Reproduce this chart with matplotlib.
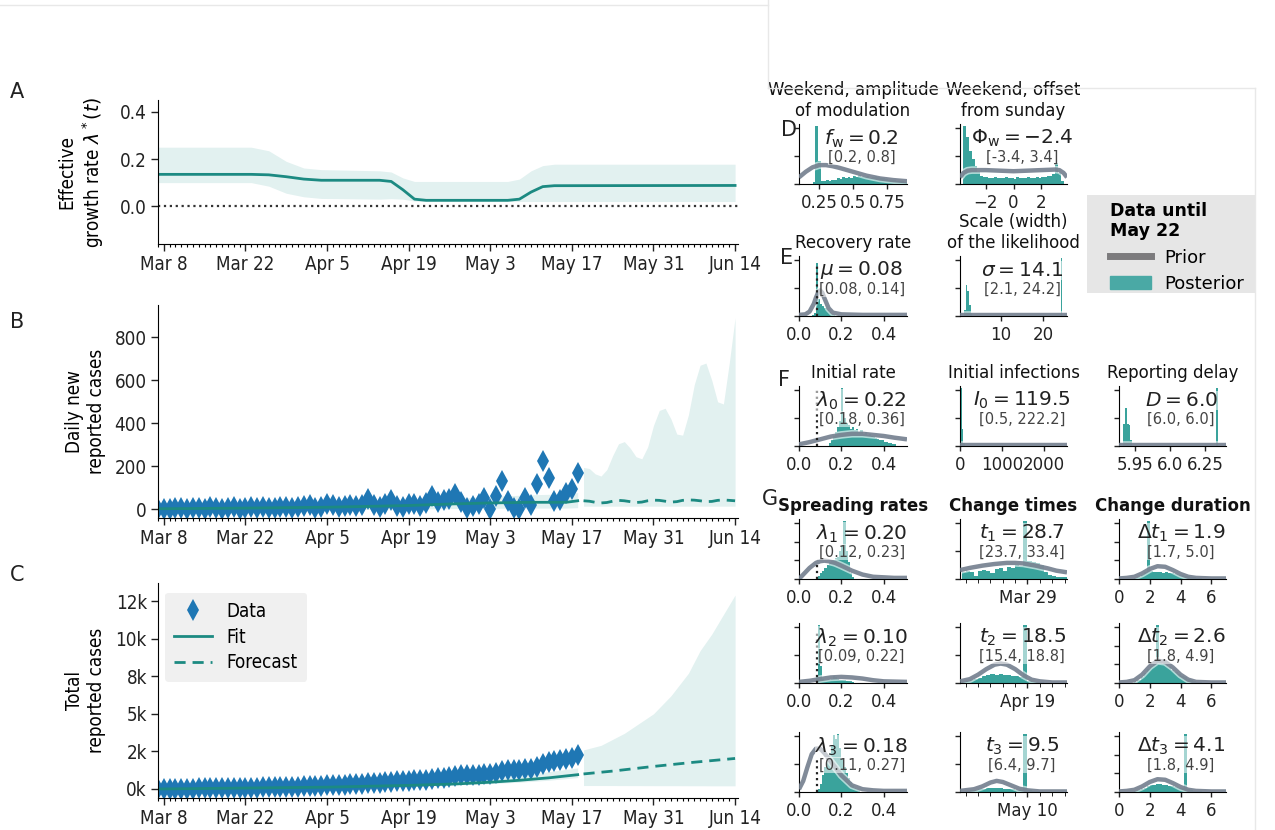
import numpy as np
import matplotlib
matplotlib.use("Agg")
import matplotlib.pyplot as plt
from matplotlib.lines import Line2D
from matplotlib.patches import Patch, Rectangle
from matplotlib.font_manager import FontProperties

# ---------------- left panels: data ----------------
# growth rate lambda*(t), key dates
lam_dates = np.array(["2020-03-07", "2020-03-23", "2020-03-26", "2020-03-29", "2020-04-01",
                      "2020-04-04", "2020-04-14", "2020-04-16", "2020-04-18", "2020-04-20",
                      "2020-04-22", "2020-05-06", "2020-05-08", "2020-05-10", "2020-05-12",
                      "2020-05-14", "2020-06-14"], dtype="datetime64[D]")
lam_med = [0.135, 0.135, 0.133, 0.125, 0.115, 0.11, 0.11, 0.105, 0.07, 0.03,
           0.025, 0.025, 0.03, 0.06, 0.083, 0.087, 0.088]
lam_hi = [0.25, 0.25, 0.235, 0.19, 0.162, 0.155, 0.15, 0.145, 0.12, 0.105,
          0.105, 0.105, 0.115, 0.15, 0.172, 0.178, 0.178]
lam_lo = [0.10, 0.10, 0.085, 0.055, 0.04, 0.033, 0.03, 0.032, 0.03, 0.022,
          0.02, 0.02, 0.02, 0.02, 0.02, 0.02, 0.02]

# daily new reported cases, Mar 7 - May 18
data_dates = np.arange("2020-03-07", "2020-05-19", dtype="datetime64[D]")
daily_cases = [2, 4, 0, 6, 8, 3, 5, 7, 3, 9, 5, 1, 8, 10, 4, 6, 10, 5, 12, 8, 6, 10, 13, 7, 9,
               15, 22, 8, 12, 25, 20, 10, 18, 22, 14, 20, 50, 20, 12, 26, 42, 18, 12, 24,
               25, 15, 28, 62, 35, 45, 50, 70, 35, 5, 15,
               25, 55, 0,
               60, 130, 40, 5, 0, 55, 20, 120, 225, 145, 40, 42, 75, 95, 170]
total_cases = np.cumsum(daily_cases)

fit_dates = np.array(["2020-03-07", "2020-03-22", "2020-04-05", "2020-04-19", "2020-04-26",
                      "2020-05-03", "2020-05-10", "2020-05-16", "2020-05-18"], dtype="datetime64[D]")
fit_daily = [3, 6, 10, 18, 25, 30, 33, 33, 40]
fit_daily_hi = [15, 20, 25, 40, 50, 60, 68, 72, 78]
fit_daily_lo = [0, 0, 0, 2, 4, 5, 6, 6, 8]

fc_dates = np.arange("2020-05-19", "2020-06-15", dtype="datetime64[D]")
fc_daily = [40, 38, 33, 30, 32, 38, 42, 40, 36, 32, 34, 40, 43, 42, 38, 34, 36, 42, 44,
            43, 40, 36, 37, 42, 44, 42, 40]
fc_daily_hi = [195, 190, 165, 155, 185, 250, 305, 315, 285, 245, 235, 290, 390, 460,
               470, 420, 350, 345, 440, 580, 670, 680, 600, 500, 490, 680, 891]
fc_daily_lo = [15] * 27

fitc_dates = np.array(["2020-03-07", "2020-04-05", "2020-04-19", "2020-04-27", "2020-05-03",
                       "2020-05-08", "2020-05-13", "2020-05-18"], dtype="datetime64[D]")
fit_total = [0, 120, 240, 333, 450, 578, 740, 950]
fit_total_hi = [40, 200, 380, 500, 720, 900, 1150, 1400]
fit_total_lo = [0, 90, 190, 260, 360, 450, 580, 760]
fct_dates = np.array(["2020-05-19", "2020-05-24", "2020-05-31", "2020-06-07", "2020-06-14"],
                     dtype="datetime64[D]")
fc_total = [1000, 1190, 1500, 1780, 2030]
fctb_dates = np.array(["2020-05-19", "2020-05-22", "2020-05-26", "2020-05-31", "2020-06-03",
                       "2020-06-06", "2020-06-08", "2020-06-10", "2020-06-12", "2020-06-14"],
                      dtype="datetime64[D]")
fc_total_hi = [2600, 2900, 3700, 5000, 6200, 7700, 9200, 10300, 11600, 12900]
fc_total_lo = [230, 230, 225, 220, 220, 215, 215, 210, 210, 210]

date_ticks = np.arange("2020-03-08", "2020-06-15", 14, dtype="datetime64[D]")
date_labels = ["Mar 8", "Mar 22", "Apr 5", "Apr 19", "May 3", "May 17", "May 31", "Jun 14"]

# ---------------- right panels: distributions ----------------
fw_edges = np.arange(0.20, 0.90, 0.02)
fw_post = [0.04, 1.05, 0.42, 0.06, 0.05, 0.07, 0.06, 0.08, 0.07, 0.10, 0.09, 0.12, 0.11, 0.13,
           0.10, 0.14, 0.12, 0.16, 0.13, 0.12, 0.15, 0.11, 0.13, 0.14, 0.12, 0.10, 0.11, 0.09,
           0.08, 0.07, 0.08, 0.06, 0.05, 0.05, 0.04]
fw_prior_x = [0.10, 0.15, 0.20, 0.25, 0.30, 0.35, 0.40, 0.50, 0.60, 0.70, 0.80, 0.90]
fw_prior_y = [0.12, 0.22, 0.30, 0.34, 0.34, 0.32, 0.29, 0.22, 0.15, 0.10, 0.07, 0.05]

phi_edges = np.arange(-3.6, 3.6, 0.2)
phi_post = [1.05, 0.85, 0.6, 0.45, 0.32, 0.22, 0.15, 0.12, 0.12, 0.1, 0.1, 0.12, 0.1, 0.11,
            0.1, 0.12, 0.1, 0.11, 0.09, 0.12, 0.1, 0.11, 0.1, 0.12, 0.1, 0.11, 0.12, 0.1,
            0.12, 0.13, 0.14, 0.15, 0.18, 0.38, 0.2, 0.05]
phi_prior_x = [-3.85, -3.6, -3.3, -3.0, -2.0, -1.0, 0, 1.0, 2.0, 3.0, 3.3, 3.6, 3.85]
phi_prior_y = [0.12, 0.2, 0.24, 0.25, 0.25, 0.24, 0.23, 0.24, 0.25, 0.26, 0.25, 0.2, 0.12]

mu_edges = np.arange(0.06, 0.165, 0.01)
mu_post = [0.02, 0.05, 0.95, 0.3, 0.22, 0.18, 0.14, 0.1, 0.07, 0.04, 0.02]
mu_prior_x = [0, 0.03, 0.05, 0.07, 0.08, 0.09, 0.10, 0.11, 0.12, 0.14, 0.16, 0.2, 0.3, 0.51]
mu_prior_y = [0.02, 0.03, 0.08, 0.22, 0.33, 0.42, 0.46, 0.42, 0.32, 0.14, 0.06, 0.03, 0.02, 0.02]

sig_edges = [1.4, 1.8, 2.2, 2.6, 3.0, 24.0]
sig_post = [0.1, 0.55, 0.45, 0.2, 0.05, 1.05]
sig_prior_x = [0.5, 25.5]
sig_prior_y = [0.015, 0.015]

lam0_edges = np.arange(0.14, 0.46, 0.01)
lam0_post = [0.05, 0.1, 0.18, 0.25, 0.35, 0.45, 1.05, 0.5, 0.42, 0.38, 0.3, 0.35, 0.28, 0.3,
             0.26, 0.28, 0.22, 0.25, 0.2, 0.22, 0.18, 0.16, 0.15, 0.12, 0.1, 0.1, 0.08, 0.07,
             0.06, 0.05, 0.04, 0.03]
lam0_prior_x = [0, 0.05, 0.1, 0.15, 0.2, 0.25, 0.3, 0.35, 0.4, 0.45, 0.51]
lam0_prior_y = [0.03, 0.07, 0.12, 0.17, 0.2, 0.22, 0.22, 0.2, 0.18, 0.15, 0.12]

i0_edges = [0, 40, 80]
i0_post = [1.05, 0.3, 0.05]
i0_prior_x = [0, 2560]
i0_prior_y = [0.015, 0.015]

d_edges = [5.897, 5.905, 5.913, 5.921, 5.929, 6.296]
d_post = [0.4, 0.68, 0.4, 0.38, 0.1, 1.05]
d_prior_x = [5.88, 6.34]
d_prior_y = [0.01, 0.01]

lam1_edges = np.arange(0.08, 0.26, 0.01)
lam1_post = [0.04, 0.06, 0.1, 0.15, 0.2, 0.25, 0.3, 0.33, 0.35, 0.38, 0.4, 0.5, 0.6, 1.05,
             0.5, 0.3, 0.1, 0.03]
lam1_prior_x = [0, 0.02, 0.05, 0.08, 0.1, 0.12, 0.14, 0.17, 0.2, 0.25, 0.3, 0.35, 0.4, 0.45, 0.51]
lam1_prior_y = [0, 0.08, 0.2, 0.29, 0.32, 0.33, 0.32, 0.29, 0.24, 0.15, 0.08, 0.04, 0.03, 0.02, 0.02]

lam2_edges = np.arange(0.08, 0.26, 0.01)
lam2_post = [0.15, 1.05, 0.3, 0.08, 0.06, 0.05, 0.06, 0.08, 0.12, 0.1, 0.08, 0.06, 0.05, 0.05,
             0.04, 0.04, 0.03, 0.02]
lam2_prior_x = [0, 0.05, 0.1, 0.15, 0.2, 0.25, 0.3, 0.35, 0.4, 0.51]
lam2_prior_y = [0.02, 0.04, 0.07, 0.1, 0.11, 0.1, 0.08, 0.05, 0.03, 0.02]

lam3_edges = np.arange(0.09, 0.29, 0.01)
lam3_post = [0.05, 0.15, 0.3, 0.45, 0.58, 0.7, 0.85, 1.02, 0.95, 1.05, 0.8, 0.6, 0.45, 0.35,
             0.25, 0.18, 0.12, 0.08, 0.05, 0.03]
lam3_prior_x = [0, 0.02, 0.04, 0.06, 0.08, 0.1, 0.12, 0.15, 0.18, 0.2, 0.25, 0.3, 0.35, 0.4, 0.51]
lam3_prior_y = [0.05, 0.2, 0.45, 0.68, 0.78, 0.78, 0.7, 0.55, 0.4, 0.3, 0.12, 0.05, 0.03, 0.02, 0.02]

t1_edges = np.arange(13, 39, 1.0)
t1_post = [0.12, 0.15, 0.12, 0.06, 0.14, 0.16, 0.15, 0.1, 0.18, 0.2, 0.14, 0.22, 0.2, 0.25,
           0.24, 1.05, 0.32, 0.3, 0.28, 0.25, 0.12, 0.08, 0.06, 0.04, 0.03, 0.03]
t1_prior_x = [12.6, 15, 18, 21, 24, 26, 28, 31, 34, 36, 38.6]
t1_prior_y = [0.16, 0.2, 0.24, 0.27, 0.29, 0.29, 0.28, 0.24, 0.19, 0.15, 0.12]

t2_edges = np.arange(3, 29, 1.0)
t2_post = [0.02, 0.03, 0.05, 0.07, 0.09, 0.12, 0.14, 0.16, 0.15, 0.17, 0.15, 0.14, 0.13, 0.12,
           0.1, 1.05, 0.03, 0.02, 0.01, 0.01, 0, 0, 0, 0, 0, 0]
t2_prior_x = [2.6, 5, 7, 9, 11, 12.5, 14, 16, 18, 20, 22, 25, 28.6]
t2_prior_y = [0.03, 0.07, 0.15, 0.25, 0.33, 0.35, 0.33, 0.25, 0.14, 0.06, 0.03, 0.01, 0.01]

t3_edges = np.arange(-5, 20, 1.0)
t3_post = [0.02, 0.03, 0.04, 0.05, 0.06, 0.07, 0.08, 0.08, 0.07, 0.06, 0.05, 0.05, 0.04, 0.04,
           1.05, 0.03, 0.01, 0.01, 0, 0, 0, 0, 0, 0, 0]
t3_prior_x = [-6.4, -3, -1, 1, 2.5, 4, 6, 8, 10, 13, 19.6]
t3_prior_y = [0.02, 0.05, 0.1, 0.17, 0.2, 0.18, 0.12, 0.06, 0.03, 0.01, 0.01]

dt_edges = np.arange(1.0, 5.4, 0.2)
dt1_post = [0.02, 0.04, 0.08, 0.12, 1.05, 0.14, 0.12, 0.13, 0.12, 0.11, 0.12, 0.1, 0.1, 0.09,
            0.08, 0.07, 0.06, 0.05, 0.04, 0.03, 0.02, 0.01]
dt2_post = [0.02, 0.05, 0.1, 0.18, 0.25, 0.3, 0.35, 1.05, 0.38, 0.35, 0.32, 0.28, 0.24, 0.2,
            0.16, 0.12, 0.1, 0.08, 0.05, 0.03, 0.02, 0.01]
dt3_post = [0.02, 0.04, 0.06, 0.08, 0.1, 0.12, 0.13, 0.14, 0.14, 0.13, 0.12, 0.11, 0.1, 0.09,
            0.08, 0.07, 1.05, 0.05, 0.03, 0.02, 0.01, 0.01]
dt_prior_x = [0, 0.5, 1, 1.5, 2, 2.5, 3, 3.5, 4, 4.5, 5, 6, 6.95]
dt1_prior_y = [0.01, 0.02, 0.04, 0.1, 0.18, 0.23, 0.22, 0.16, 0.09, 0.04, 0.02, 0.01, 0.01]
dt2_prior_y = [0.01, 0.02, 0.05, 0.15, 0.3, 0.4, 0.38, 0.28, 0.15, 0.06, 0.02, 0.01, 0.01]
dt3_prior_y = [0.01, 0.02, 0.04, 0.1, 0.18, 0.23, 0.22, 0.16, 0.09, 0.04, 0.02, 0.01, 0.01]

mu_line = 0.085

# ---------------- style ----------------
TEAL = "#1c8a82"
TEAL_FILL = "#e2f1f0"
BLUE = "#1f77b4"
POST = "#3aa39c"
PRIOR = "#737f8e"
W, H = 1275, 830

fp_tick = FontProperties(family="DejaVu Sans", stretch="condensed", size=13.5)
fp_label = FontProperties(family="DejaVu Sans", stretch="condensed", size=13.5)
fp_leg = FontProperties(family="DejaVu Sans", stretch="condensed", size=13.5)

fig = plt.figure(figsize=(W / 100, H / 100), dpi=100)


def px_axes(l, t, r, b):
    return fig.add_axes([l / W, 1 - b / H, (r - l) / W, (b - t) / H])


def style_left(ax, yticks, ylabels, ylim, ylabel):
    ax.set_xlim(np.datetime64("2020-03-07"), np.datetime64("2020-06-14T12:00"))
    ax.set_xticks(date_ticks)
    ax.set_xticklabels(date_labels, fontproperties=fp_tick)
    ax.set_xticks(np.arange("2020-03-07", "2020-06-15", dtype="datetime64[D]"), minor=True)
    ax.set_ylim(*ylim)
    ax.set_yticks(yticks)
    ax.set_yticklabels(ylabels, fontproperties=fp_tick)
    ax.tick_params(which="major", length=5, width=1, colors="#222", pad=3)
    ax.tick_params(which="minor", length=2.5, width=0.8)
    for s in ["top", "right"]:
        ax.spines[s].set_visible(False)
    ax.set_ylabel(ylabel, fontproperties=fp_label)
    ax.yaxis.set_label_coords(-0.09, 0.5)


# A
axA = px_axes(158, 100, 738, 244)
axA.fill_between(lam_dates, lam_lo, lam_hi, color=TEAL_FILL, lw=0)
axA.plot(lam_dates, lam_med, color=TEAL, lw=2)
axA.axhline(0, color="#333", ls=":", lw=1.6)
style_left(axA, [0, 0.2, 0.4], ["0.0", "0.2", "0.4"], (-0.16, 0.45),
           "Effective\ngrowth rate $\\lambda^*(t)$")

# B
axB = px_axes(158, 305, 738, 518)
axB.fill_between(fit_dates, fit_daily_lo, fit_daily_hi, color=TEAL_FILL, lw=0)
axB.fill_between(fc_dates, fc_daily_lo, fc_daily_hi, color=TEAL_FILL, lw=0)
axB.plot(data_dates, daily_cases, "d", color=BLUE, ms=11, mew=0)
axB.plot(fit_dates, fit_daily, color=TEAL, lw=2)
axB.plot(fc_dates, fc_daily, color=TEAL, lw=2, ls=(0, (4, 2.5)))
style_left(axB, [0, 200, 400, 600, 800], ["0", "200", "400", "600", "800"], (-40, 950),
           "Daily new\nreported cases")

# C
axC = px_axes(158, 583, 738, 798)
axC.fill_between(fitc_dates, fit_total_lo, fit_total_hi, color=TEAL_FILL, lw=0)
axC.fill_between(fctb_dates, fc_total_lo, fc_total_hi, color=TEAL_FILL, lw=0)
axC.plot(data_dates, total_cases, "d", color=BLUE, ms=11, mew=0, label="Data")
axC.plot(fitc_dates, fit_total, color=TEAL, lw=2, label="Fit")
axC.plot(fct_dates, fc_total, color=TEAL, lw=2, ls=(0, (4, 2.5)), label="Forecast")
style_left(axC, [0, 2500, 5000, 7500, 10000, 12500], ["0k", "2k", "5k", "8k", "10k", "12k"],
           (-600, 13700), "Total\nreported cases")
axC.legend(loc="upper left", bbox_to_anchor=(0.012, 0.955), borderaxespad=0,
           facecolor="#f0f0f0", edgecolor="none", framealpha=1, prop=fp_leg,
           handlelength=2.0, borderpad=0.5, labelspacing=0.35)

for letter, y in [("A", 92), ("B", 322), ("C", 575)]:
    fig.text(10 / W, 1 - y / H, letter, fontsize=15, va="center", ha="left", color="#222")

# ---------------- right panels ----------------
cols = [(799, 907), (960, 1067), (1119, 1226)]
rows = [(124, 184), (256, 316), (386, 446), (519, 579), (623, 683), (732, 792)]


def dist_panel(col, row, edges, post, width, prior_x, prior_y, xlim, xticks, xlabels,
               value, interval, title=None, bold=False, dotted=None, nyt=3, minor=None):
    l, r = cols[col]
    t, b = rows[row]
    ax = px_axes(l, t, r, b)
    ax.bar(edges, post, width=width, align="edge", color=POST, lw=0, zorder=1)
    ax.plot(prior_x, prior_y, color="white", lw=5.5, alpha=0.6, zorder=2, solid_capstyle="butt")
    ax.plot(prior_x, prior_y, color=PRIOR, lw=3.2, alpha=0.9, zorder=3, solid_capstyle="butt")
    if dotted is not None:
        ax.plot([mu_line, mu_line], [0, dotted], color="#222", ls=":", lw=1.6, zorder=4)
    ax.set_xlim(*xlim)
    ax.set_ylim(0, 1.08)
    ax.set_xticks(xticks)
    ax.set_xticklabels(xlabels, fontsize=12, color="#222")
    if minor is not None:
        ax.set_xticks(minor, minor=True)
        ax.tick_params(axis="x", which="minor", length=3)
    if nyt == 3:
        ax.set_yticks([0, 0.34, 0.67, 1.0])
    else:
        ax.set_yticks([0, 0.5, 1.0])
    ax.set_yticklabels([])
    ax.tick_params(length=3.5, width=1, colors="#222")
    for s in ["top", "right"]:
        ax.spines[s].set_visible(False)
    bb = dict(facecolor="white", edgecolor="none", alpha=0.55, pad=0.2)
    ax.text(0.58, 0.76, value, transform=ax.transAxes, ha="center", va="center",
            fontsize=14.5, color="#222", bbox=bb, zorder=5)
    ax.text(0.58, 0.45, interval, transform=ax.transAxes, ha="center", va="center",
            fontsize=10.5, color="#444", bbox=bb, zorder=5)
    if title:
        ax.set_title(title, fontsize=12, pad=6, fontweight="bold" if bold else "normal",
                     color="#111", linespacing=1.2)
    return ax


dist_panel(0, 0, fw_edges, fw_post, 0.02, fw_prior_x, fw_prior_y, (0.10, 0.90),
           [0.25, 0.5, 0.75], ["0.25", "0.5", "0.75"], "$f_\\mathrm{w} = 0.2$", "[0.2, 0.8]",
           "Weekend, amplitude\nof modulation", nyt=2)
dist_panel(1, 0, phi_edges, phi_post, 0.2, phi_prior_x, phi_prior_y, (-3.85, 3.85),
           [-2, 0, 2], ["\u22122", "0", "2"], "$\\Phi_\\mathrm{w} = -2.4$", "[-3.4, 3.4]",
           "Weekend, offset\nfrom sunday", nyt=2)
dist_panel(0, 1, mu_edges, mu_post, 0.01, mu_prior_x, mu_prior_y, (0, 0.51),
           [0, 0.2, 0.4], ["0.0", "0.2", "0.4"], "$\\mu = 0.08$", "[0.08, 0.14]",
           "Recovery rate", dotted=0.9, nyt=2)
dist_panel(1, 1, sig_edges, sig_post, 0.4, sig_prior_x, sig_prior_y, (0.5, 25.5),
           [10, 20], ["10", "20"], "$\\sigma = 14.1$", "[2.1, 24.2]",
           "Scale (width)\nof the likelihood", nyt=2)
dist_panel(0, 2, lam0_edges, lam0_post, 0.01, lam0_prior_x, lam0_prior_y, (0, 0.51),
           [0, 0.2, 0.4], ["0.0", "0.2", "0.4"], "$\\lambda_0 = 0.22$", "[0.18, 0.36]",
           "Initial rate", dotted=1.0, nyt=2)
dist_panel(1, 2, i0_edges, i0_post, 40, i0_prior_x, i0_prior_y, (0, 2560),
           [0, 1000, 2000], ["0", "1000", "2000"], "$I_0 = 119.5$", "[0.5, 222.2]",
           "Initial infections", nyt=2)
dist_panel(2, 2, d_edges, d_post, 0.008, d_prior_x, d_prior_y, (5.88, 6.34),
           [5.95, 6.1, 6.25], ["5.95", "6.0", "6.25"], "$D = 6.0$", "[6.0, 6.0]",
           "Reporting delay", nyt=2)

dist_panel(0, 3, lam1_edges, lam1_post, 0.01, lam1_prior_x, lam1_prior_y, (0, 0.51),
           [0, 0.2, 0.4], ["0.0", "0.2", "0.4"], "$\\lambda_1 = 0.20$", "[0.12, 0.23]",
           "Spreading rates", bold=True, dotted=0.3)
dist_panel(0, 4, lam2_edges, lam2_post, 0.01, lam2_prior_x, lam2_prior_y, (0, 0.51),
           [0, 0.2, 0.4], ["0.0", "0.2", "0.4"], "$\\lambda_2 = 0.10$", "[0.09, 0.22]",
           dotted=0.95, nyt=2)
dist_panel(0, 5, lam3_edges, lam3_post, 0.01, lam3_prior_x, lam3_prior_y, (0, 0.51),
           [0, 0.2, 0.4], ["0.0", "0.2", "0.4"], "$\\lambda_3 = 0.18$", "[0.11, 0.27]",
           dotted=0.6, nyt=2)

dist_panel(1, 3, t1_edges, t1_post, 1.0, t1_prior_x, t1_prior_y, (12.6, 38.6),
           [29], ["Mar 29"], "$t_1 = 28.7$", "[23.7, 33.4]", "Change times", bold=True,
           nyt=2, minor=np.arange(14, 39, 3))
dist_panel(1, 4, t2_edges, t2_post, 1.0, t2_prior_x, t2_prior_y, (2.6, 28.6),
           [19], ["Apr 19"], "$t_2 = 18.5$", "[15.4, 18.8]", nyt=2,
           minor=np.arange(4, 29, 3))
dist_panel(1, 5, t3_edges, t3_post, 1.0, t3_prior_x, t3_prior_y, (-6.4, 19.6),
           [10], ["May 10"], "$t_3 = 9.5$", "[6.4, 9.7]", nyt=2,
           minor=np.arange(-5, 20, 3))

dist_panel(2, 3, dt_edges, dt1_post, 0.2, dt_prior_x, dt1_prior_y, (0, 6.95),
           [0, 2, 4, 6], ["0", "2", "4", "6"], "$\\Delta t_1 = 1.9$", "[1.7, 5.0]",
           "Change duration", bold=True)
dist_panel(2, 4, dt_edges, dt2_post, 0.2, dt_prior_x, dt2_prior_y, (0, 6.95),
           [0, 2, 4, 6], ["0", "2", "4", "6"], "$\\Delta t_2 = 2.6$", "[1.8, 4.9]")
dist_panel(2, 5, dt_edges, dt3_post, 0.2, dt_prior_x, dt3_prior_y, (0, 6.95),
           [0, 2, 4, 6], ["0", "2", "4", "6"], "$\\Delta t_3 = 4.1$", "[1.8, 4.9]")

for letter, x, y in [("D", 781, 130), ("E", 780, 258), ("F", 778, 380), ("G", 762, 499)]:
    fig.text(x / W, 1 - y / H, letter, fontsize=15, va="center", ha="left", color="#222")

# legend box for the distributions
fig.add_artist(Rectangle((1087 / W, 1 - 293 / H), 168 / W, 98 / H, transform=fig.transFigure,
                         facecolor="#e6e6e6", edgecolor="none", zorder=0))
handles = [Line2D([], [], color="#7c7b7d", lw=5), Patch(color="#4aa9a5")]
fig.legend(handles, ["Prior", "Posterior"], title="Data until\nMay 22",
           loc="upper left", bbox_to_anchor=(1106 / W, 1 - 198 / H), borderaxespad=0,
           fontsize=13, title_fontproperties={"weight": "bold", "size": 12.5},
           alignment="left", frameon=False, handlelength=2.3, handletextpad=0.7,
           labelspacing=0.45, borderpad=0.2)

# faint frame lines from the original screenshot
for xs, ys in [([0, 768], [5, 5]), ([768, 768], [0, 88]), ([768, 1255], [88, 88]),
               ([1255, 1255], [88, 830])]:
    fig.add_artist(Line2D([x / W for x in xs], [1 - y / H for y in ys], color="#e8e8e8",
                          lw=1, transform=fig.transFigure))

fig.savefig("out.png", dpi=100)
